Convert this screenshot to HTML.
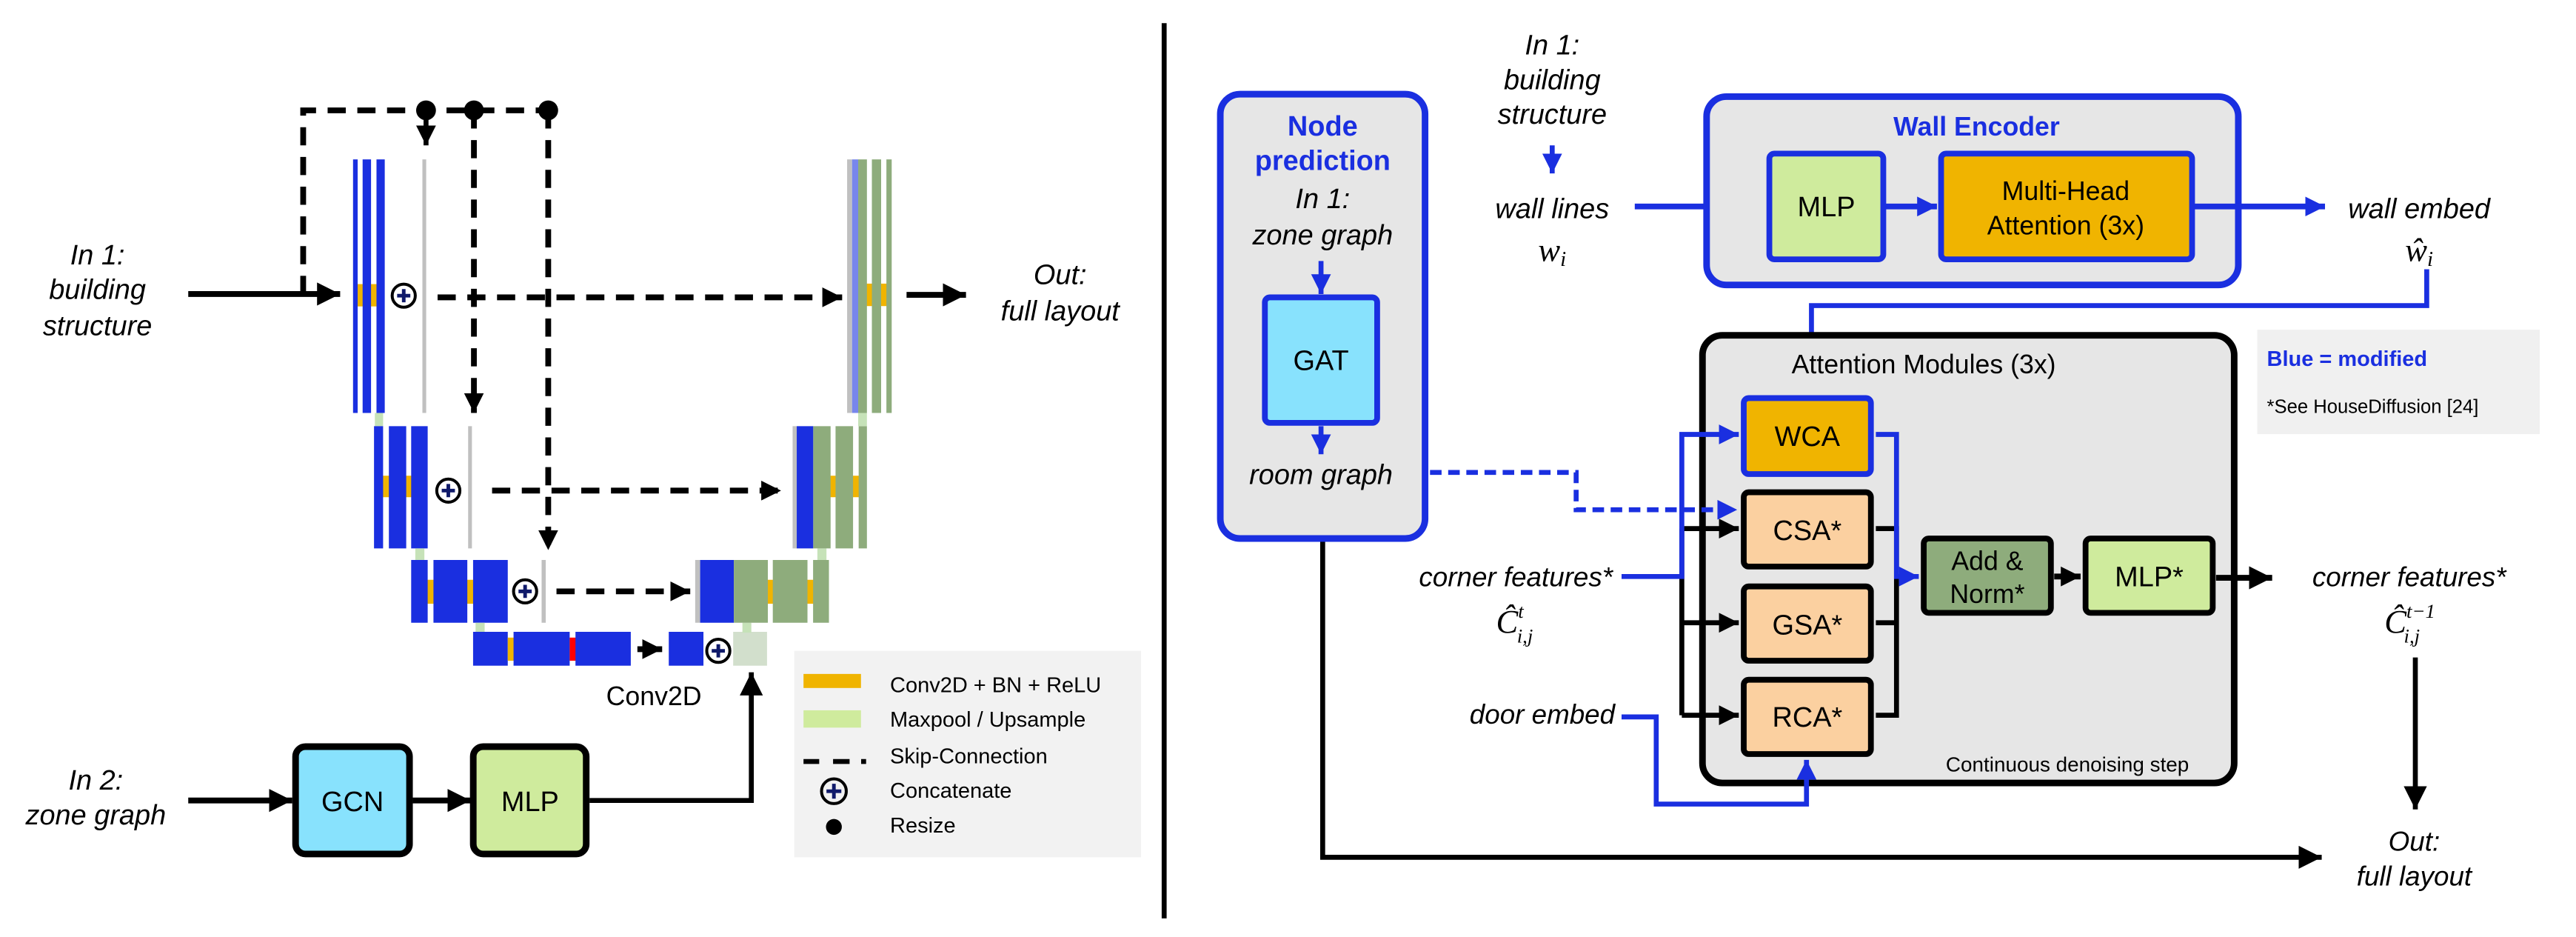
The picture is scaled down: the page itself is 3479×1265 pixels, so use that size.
<!DOCTYPE html>
<html><head><meta charset="utf-8"><style>
html,body{margin:0;padding:0;background:#fff}
svg{display:block}
text{font-family:"Liberation Sans",sans-serif}
.it{font-style:italic}
.m{font-family:"Liberation Serif",serif;font-style:italic}
</style></head><body>
<svg width="3479" height="1265" viewBox="0 0 1560 567.25" preserveAspectRatio="none" xmlns="http://www.w3.org/2000/svg">
<defs>
<marker id="ab" markerUnits="userSpaceOnUse" markerWidth="14" markerHeight="14" viewBox="0 0 10 10" refX="10" refY="5" orient="auto"><path d="M0,0 L10,5 L0,10 z" fill="#000"/></marker>
<marker id="ab2" markerUnits="userSpaceOnUse" markerWidth="12" markerHeight="12" viewBox="0 0 10 10" refX="10" refY="5" orient="auto"><path d="M0,0 L10,5 L0,10 z" fill="#000"/></marker>
<marker id="au" markerUnits="userSpaceOnUse" markerWidth="12" markerHeight="12" viewBox="0 0 10 10" refX="10" refY="5" orient="auto"><path d="M0,0 L10,5 L0,10 z" fill="#1a2fe0"/></marker>
</defs>
<rect width="1560" height="567.25" fill="#fff"/>

<line x1="705" y1="14" x2="705" y2="556" stroke="#000" stroke-width="3"/>

<g font-size="17" class="it" text-anchor="middle">
<text x="59" y="160" class="it">In 1:</text>
<text x="59" y="181" class="it">building</text>
<text x="59" y="203" class="it">structure</text>
<text x="642" y="172" class="it">Out:</text>
<text x="642" y="194" class="it">full layout</text>
<text x="58" y="478" class="it">In 2:</text>
<text x="58" y="499" class="it">zone graph</text>
</g>

<g stroke="#000" stroke-width="3.5" fill="none" stroke-dasharray="11 7">
<path d="M183.6,178 V66.8 H332"/>
<line x1="287" y1="66.8" x2="287" y2="250" marker-end="url(#ab2)"/>
<line x1="332" y1="66.8" x2="332" y2="333" marker-end="url(#ab2)"/>
<line x1="265" y1="180" x2="510" y2="180" marker-end="url(#ab2)"/>
<line x1="298" y1="297" x2="473" y2="297" marker-end="url(#ab2)"/>
<line x1="337" y1="358" x2="418" y2="358" marker-end="url(#ab2)"/>
</g>
<line x1="258" y1="66.8" x2="258" y2="88" stroke="#000" stroke-width="3" marker-end="url(#ab2)"/>
<circle cx="258" cy="66.8" r="6" fill="#000"/>
<circle cx="287" cy="66.8" r="6" fill="#000"/>
<circle cx="332" cy="66.8" r="6" fill="#000"/>
<line x1="114" y1="178" x2="206" y2="178" stroke="#000" stroke-width="3.5" marker-end="url(#ab)"/>

<rect x="216" y="172" width="12" height="13.5" fill="#f0b400"/>
<rect x="213.8" y="96.5" width="2.8" height="153.5" fill="#1a2fe0"/>
<rect x="219.6" y="96.5" width="5.1" height="153.5" fill="#1a2fe0"/>
<rect x="228" y="96.5" width="5" height="153.5" fill="#1a2fe0"/>
<rect x="255.8" y="96.5" width="2.3" height="153.5" fill="#c0c0c0"/>
<rect x="227" y="250" width="5" height="8" fill="#c6e2b8"/>
<rect x="231" y="288" width="20" height="13" fill="#f0b400"/>
<rect x="226.5" y="258" width="5.5" height="74" fill="#1a2fe0"/>
<rect x="235.5" y="258" width="10.5" height="74" fill="#1a2fe0"/>
<rect x="249" y="258" width="10" height="74" fill="#1a2fe0"/>
<rect x="283.5" y="258" width="2.3" height="74" fill="#c0c0c0"/>
<rect x="251.5" y="332" width="5.5" height="7" fill="#c6e2b8"/>
<rect x="258" y="351" width="30" height="14.5" fill="#f0b400"/>
<rect x="249" y="339" width="10" height="38" fill="#1a2fe0"/>
<rect x="262.5" y="339" width="20.5" height="38" fill="#1a2fe0"/>
<rect x="286.5" y="339" width="21" height="38" fill="#1a2fe0"/>
<rect x="328" y="339" width="2.5" height="38" fill="#c0c0c0"/>
<rect x="288" y="377" width="5.5" height="6" fill="#c6e2b8"/>
<rect x="286.5" y="382.5" width="21" height="20.5" fill="#1a2fe0"/>
<rect x="307.5" y="386" width="4" height="14" fill="#f0b400"/>
<rect x="311" y="382.5" width="34" height="20.5" fill="#1a2fe0"/>
<rect x="345" y="386" width="4" height="14" fill="#ff0000"/>
<rect x="348.5" y="382.5" width="33.5" height="20.5" fill="#1a2fe0"/>
<line x1="386" y1="393" x2="401" y2="393" stroke="#000" stroke-width="3.5" marker-end="url(#ab2)"/>
<rect x="405" y="382.5" width="21" height="20.5" fill="#1a2fe0"/>
<rect x="444" y="382.5" width="20.5" height="20.5" fill="#d2dfcc"/>
<rect x="449.6" y="377" width="5.4" height="6" fill="#c6e2b8"/>
<text x="396" y="427" font-size="16" text-anchor="middle">Conv2D</text>

<rect x="462" y="351" width="32" height="14.5" fill="#f0b400"/>
<rect x="421" y="339" width="3" height="38" fill="#c0c0c0"/>
<rect x="424" y="339" width="20.4" height="38" fill="#1a2fe0"/>
<rect x="444.4" y="339" width="20.6" height="38" fill="#8eac7c"/>
<rect x="468" y="339" width="21" height="38" fill="#8eac7c"/>
<rect x="492.4" y="339" width="9.6" height="38" fill="#8eac7c"/>
<rect x="495" y="332" width="5.5" height="7" fill="#c6e2b8"/>
<rect x="500" y="288" width="24" height="13" fill="#f0b400"/>
<rect x="480" y="258" width="2.5" height="74" fill="#c0c0c0"/>
<rect x="482.5" y="258" width="10" height="74" fill="#1a2fe0"/>
<rect x="492.5" y="258" width="10.5" height="74" fill="#8eac7c"/>
<rect x="506" y="258" width="10.6" height="74" fill="#8eac7c"/>
<rect x="520" y="258" width="5" height="74" fill="#8eac7c"/>
<rect x="519.7" y="250" width="5.3" height="8" fill="#c6e2b8"/>
<rect x="524" y="171.7" width="13" height="13.6" fill="#f0b400"/>
<rect x="513" y="96.5" width="3" height="153.5" fill="#c0c0c0"/>
<rect x="516" y="96.5" width="3.7" height="153.5" fill="#7886ec"/>
<rect x="519.7" y="96.5" width="5.3" height="153.5" fill="#8eac7c"/>
<rect x="528" y="96.5" width="5.6" height="153.5" fill="#8eac7c"/>
<rect x="536.8" y="96.5" width="3.2" height="153.5" fill="#8eac7c"/>
<line x1="549" y1="178.5" x2="585" y2="178.5" stroke="#000" stroke-width="3.5" marker-end="url(#ab)"/>

<g fill="#fff" stroke="#000" stroke-width="1.8">
<circle cx="244.5" cy="179" r="7"/><circle cx="271.5" cy="297" r="7"/>
<circle cx="318" cy="358" r="7"/><circle cx="435" cy="394" r="7"/>
</g>
<g stroke="#101a6a" stroke-width="2.2">
<path d="M240.5,179 h8 M244.5,175 v8"/><path d="M267.5,297 h8 M271.5,293 v8"/>
<path d="M314,358 h8 M318,354 v8"/><path d="M431,394 h8 M435,390 v8"/>
</g>

<line x1="114" y1="484.6" x2="177" y2="484.6" stroke="#000" stroke-width="3.5" marker-end="url(#ab)"/>
<rect x="179" y="452" width="69" height="65" rx="6" fill="#88e2fd" stroke="#000" stroke-width="4"/>
<text x="213.5" y="491" font-size="17" text-anchor="middle">GCN</text>
<line x1="250" y1="484.6" x2="285" y2="484.6" stroke="#000" stroke-width="3.5" marker-end="url(#ab)"/>
<rect x="286.6" y="452" width="68.4" height="65" rx="6" fill="#cfeb9d" stroke="#000" stroke-width="4"/>
<text x="321" y="491" font-size="17" text-anchor="middle">MLP</text>
<path d="M357,484.6 H455 V407" fill="none" stroke="#000" stroke-width="3" marker-end="url(#ab)"/>

<rect x="481" y="394" width="210" height="125" fill="#f2f2f2"/>
<rect x="486.6" y="408" width="34.8" height="8.5" fill="#f0b400"/>
<rect x="486.6" y="430" width="34.8" height="10.5" fill="#cfeb9d"/>
<path d="M486.6,461 h9.5 M504.5,461 h10 M521.5,461 h3" stroke="#000" stroke-width="3"/>
<circle cx="505" cy="479" r="7.5" fill="none" stroke="#000" stroke-width="1.8"/>
<path d="M500.5,479 h9 M505,474.5 v9" stroke="#101a6a" stroke-width="2.2"/>
<circle cx="505" cy="500.6" r="4.8" fill="#000"/>
<g font-size="13">
<text x="539" y="419">Conv2D + BN + ReLU</text>
<text x="539" y="440">Maxpool / Upsample</text>
<text x="539" y="462">Skip-Connection</text>
<text x="539" y="483">Concatenate</text>
<text x="539" y="504">Resize</text>
</g>

<!-- node prediction -->
<rect x="739" y="57" width="124" height="269" rx="12" fill="#e6e6e6" stroke="#1a2fe0" stroke-width="4"/>
<g text-anchor="middle" font-size="17">
<text x="801" y="82" font-weight="bold" fill="#1a2fe0">Node</text>
<text x="801" y="103" font-weight="bold" fill="#1a2fe0">prediction</text>
<text x="801" y="126" class="it">In 1:</text>
<text x="801" y="148" class="it">zone graph</text>
</g>
<line x1="800" y1="158" x2="800" y2="178" stroke="#1a2fe0" stroke-width="3" marker-end="url(#au)"/>
<rect x="766" y="180" width="68" height="76" rx="3" fill="#88e2fd" stroke="#1a2fe0" stroke-width="3.5"/>
<text x="800" y="224" font-size="17" text-anchor="middle">GAT</text>
<line x1="800" y1="258" x2="800" y2="275" stroke="#1a2fe0" stroke-width="3" marker-end="url(#au)"/>
<text x="800" y="293" font-size="17" class="it" text-anchor="middle">room graph</text>
<path d="M801,328 V519 H1406" fill="none" stroke="#000" stroke-width="3" marker-end="url(#ab)"/>

<g text-anchor="middle" font-size="17">
<text x="940" y="33" class="it">In 1:</text>
<text x="940" y="54" class="it">building</text>
<text x="940" y="75" class="it">structure</text>
<text x="940" y="132" class="it">wall lines</text>
<text x="940" y="158" class="m" font-size="20">w<tspan font-size="13" dy="3">i</tspan></text>
<text x="1465" y="132" class="it">wall embed</text>
<text x="1465" y="158" class="m" font-size="20">ŵ<tspan font-size="13" dy="3">i</tspan></text>
</g>
<line x1="940" y1="88" x2="940" y2="105" stroke="#1a2fe0" stroke-width="3" marker-end="url(#au)"/>
<line x1="990" y1="125" x2="1070" y2="125" stroke="#1a2fe0" stroke-width="3.5" marker-end="url(#au)"/>

<rect x="1033.5" y="58.5" width="322" height="114" rx="12" fill="#e6e6e6" stroke="#1a2fe0" stroke-width="4"/>
<text x="1197" y="82" font-size="16" font-weight="bold" fill="#1a2fe0" text-anchor="middle">Wall Encoder</text>
<rect x="1071.5" y="93" width="69" height="64" rx="3" fill="#cfeb9d" stroke="#1a2fe0" stroke-width="3.5"/>
<text x="1106" y="131" font-size="17" text-anchor="middle">MLP</text>
<line x1="1142" y1="125" x2="1173" y2="125" stroke="#1a2fe0" stroke-width="3.5" marker-end="url(#au)"/>
<rect x="1175.5" y="93" width="152" height="64" rx="3" fill="#f0b400" stroke="#1a2fe0" stroke-width="3.5"/>
<text x="1251" y="121" font-size="16" text-anchor="middle">Multi-Head</text>
<text x="1251" y="142" font-size="16" text-anchor="middle">Attention (3x)</text>
<line x1="1329" y1="125" x2="1408" y2="125" stroke="#1a2fe0" stroke-width="3.5" marker-end="url(#au)"/>

<path d="M1469.6,163 V185 H1097 V238" fill="none" stroke="#1a2fe0" stroke-width="3" marker-end="url(#au)"/>

<rect x="1031" y="203" width="322" height="271" rx="12" fill="#e6e6e6" stroke="#000" stroke-width="4"/>
<text x="1165" y="226" font-size="16" text-anchor="middle">Attention Modules (3x)</text>
<text x="1252" y="467" font-size="12.5" text-anchor="middle">Continuous denoising step</text>

<g stroke="#000" stroke-width="3" fill="none">
<line x1="1018.5" y1="320" x2="1018.5" y2="433"/>
<line x1="1018.5" y1="320" x2="1053" y2="320" marker-end="url(#ab2)"/>
<line x1="1018.5" y1="377" x2="1053" y2="377" marker-end="url(#ab2)"/>
<line x1="1018.5" y1="433" x2="1053" y2="433" marker-end="url(#ab2)"/>
<path d="M1136,320 H1148.5 V433 H1136 M1136,377 H1148.5"/>
</g>
<path d="M982,349 H1018.5 V263 H1053" fill="none" stroke="#1a2fe0" stroke-width="3" marker-end="url(#au)"/>
<path d="M1136,263 H1148.5 V349 H1162" fill="none" stroke="#1a2fe0" stroke-width="3" marker-end="url(#au)"/>
<path d="M982,434 H1003 V486.8 H1094 V460" fill="none" stroke="#1a2fe0" stroke-width="3" marker-end="url(#au)"/>
<path d="M866,286 H954.5 V308.6 H1052" fill="none" stroke="#1a2fe0" stroke-width="3" stroke-dasharray="7 4" marker-end="url(#au)"/>

<rect x="1056" y="241" width="77" height="46" rx="3" fill="#f0b400" stroke="#1a2fe0" stroke-width="3.5"/>
<text x="1094.5" y="270" font-size="17" text-anchor="middle">WCA</text>
<rect x="1056" y="298" width="77" height="45" rx="3" fill="#fbd0a0" stroke="#000" stroke-width="3.5"/>
<text x="1094.5" y="327" font-size="17" text-anchor="middle">CSA*</text>
<rect x="1056" y="355" width="77" height="45" rx="3" fill="#fbd0a0" stroke="#000" stroke-width="3.5"/>
<text x="1094.5" y="384" font-size="17" text-anchor="middle">GSA*</text>
<rect x="1056" y="411.5" width="77" height="45" rx="3" fill="#fbd0a0" stroke="#000" stroke-width="3.5"/>
<text x="1094.5" y="440" font-size="17" text-anchor="middle">RCA*</text>

<rect x="1165" y="326" width="77" height="45" rx="3" fill="#8eac7c" stroke="#000" stroke-width="3.5"/>
<text x="1203.5" y="345" font-size="16" text-anchor="middle">Add &amp;</text>
<text x="1203.5" y="365" font-size="16" text-anchor="middle">Norm*</text>
<line x1="1244" y1="349" x2="1260" y2="349" stroke="#000" stroke-width="3.5" marker-end="url(#ab2)"/>
<rect x="1263" y="326" width="77" height="45" rx="3" fill="#cfeb9d" stroke="#000" stroke-width="3.5"/>
<text x="1301.5" y="355" font-size="17" text-anchor="middle">MLP*</text>
<line x1="1342" y1="349.8" x2="1376" y2="349.8" stroke="#000" stroke-width="3.5" marker-end="url(#ab)"/>

<g text-anchor="middle" font-size="16.5">
<text x="918" y="355" class="it">corner features*</text>
<text x="934" y="438" class="it">door embed</text>
<text x="1459" y="355" class="it">corner features*</text>
<text x="1462" y="515" class="it">Out:</text>
<text x="1462" y="536" class="it">full layout</text>
</g>
<text x="906" y="383" class="m" font-size="20">Ĉ<tspan font-size="12" dy="-9">t</tspan><tspan font-size="12" dx="-4" dy="15">i,j</tspan></text>
<text x="1444" y="383" class="m" font-size="20">Ĉ<tspan font-size="12" dy="-9">t−1</tspan><tspan font-size="12" dx="-19" dy="15">i,j</tspan></text>
<line x1="1462.7" y1="398" x2="1462.7" y2="490" stroke="#000" stroke-width="3" marker-end="url(#ab)"/>

<rect x="1367" y="199.6" width="171" height="63.2" fill="#f0f0f0"/>
<text x="1372.8" y="221.5" font-size="13" font-weight="bold" fill="#1a2fe0">Blue = modified</text>
<text x="1372.8" y="250" font-size="11.5">*See HouseDiffusion [24]</text>
</svg>
</body></html>
